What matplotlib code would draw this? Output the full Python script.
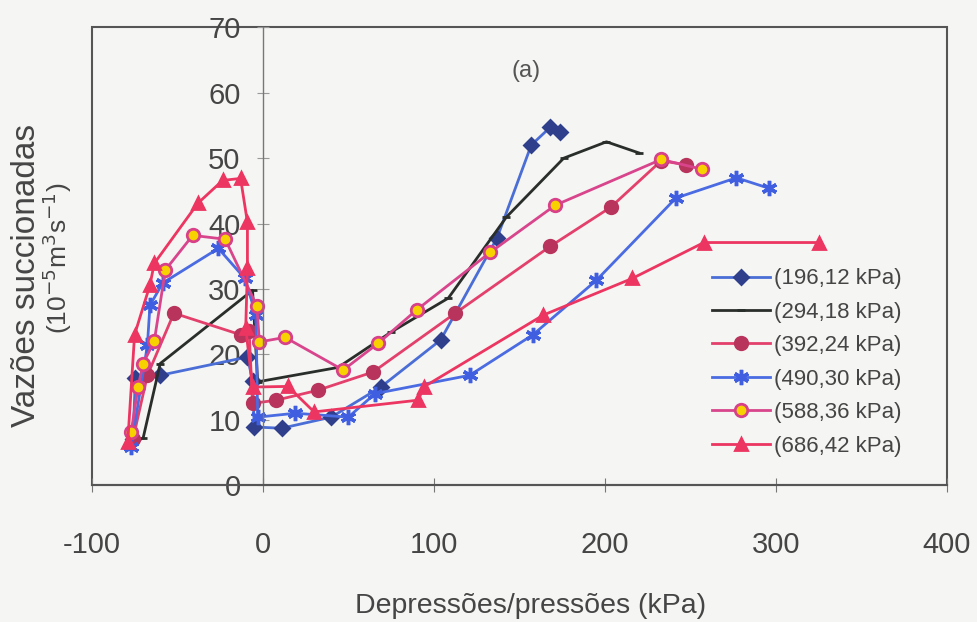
import matplotlib.pyplot as plt
from matplotlib.patches import Rectangle
import numpy as np

# data
labels = ['(196,12 kPa)', '(294,18 kPa)', '(392,24 kPa)',
          '(490,30 kPa)', '(588,36 kPa)', '(686,42 kPa)']

x196 = [-76, -74.5, -60, -9, -6, -5, 11, 40, 69, 104, 137, 157, 168, 174]
y196 = [7, 16.4, 16.8, 19.6, 16, 8.9, 8.7, 10.4, 15, 22.2, 37.8, 52, 54.7, 54]

x294 = [-70, -60, -6, -3, 44, 75, 108.5, 142.5, 176, 201, 220]
y294 = [7.2, 18.6, 29.8, 15.8, 18, 23.4, 28.6, 41, 50, 52.5, 50.8]

x392 = [-76, -67.5, -52, -13, -8, -6, 8, 32, 64.5, 112.6, 168, 203.5, 233, 247.5]
y392 = [7, 16.8, 26.3, 23, 23.5, 12.5, 13, 14.5, 17.3, 26.3, 36.5, 42.5, 49.6, 49]

x490 = [-77, -67.5, -66, -58.6, -26, -10.5, -4, -3, 19, 50, 65.7, 121, 158, 195, 241.6, 277, 296]
y490 = [5.8, 21.4, 27.5, 30.9, 36.2, 31.6, 26, 10.4, 11, 10.4, 14, 16.8, 23, 31.3, 43.9, 47, 45.4]

x588 = [-77, -73, -70, -63.5, -57, -41, -22, -3.5, -2, 13, 47, 67.5, 90, 133, 171, 233, 257]
y588 = [8.1, 15, 18.6, 22, 32.9, 38.2, 37.6, 27.4, 21.9, 22.6, 17.6, 21.7, 26.8, 35.6, 42.8, 49.8, 48.3]

x686 = [-79, -75, -66, -63.5, -38, -23.5, -13, -9, -9, -10, -6, 14.7, 30, 91, 94, 164, 216, 258, 325.5]
y686 = [6.6, 23, 30.6, 33.9, 43.1, 46.6, 46.9, 40.2, 33.2, 24, 15, 15.1, 11.2, 13, 15, 26, 31.6, 37.1, 37.1]

xticks = [-100, 0, 100, 200, 300, 400]
yticks = [0, 10, 20, 30, 40, 50, 60, 70]

bg = '#f5f5f3'
txt = '#454545'
plt.rcParams['font.family'] = ['Liberation Sans', 'DejaVu Sans']
plt.rcParams['axes.unicode_minus'] = False

fig = plt.figure(figsize=(9.77, 6.22), dpi=100, facecolor=bg)
ax = fig.add_axes([0.094, 0.22, 0.875, 0.736], facecolor=bg)

# (x, y, line colour, marker, marker face, marker edge, marker size)
styles = [
    (x196, y196, '#4a6ed6', 'D', '#2f3f8c', '#2f3f8c', 7),
    (x294, y294, '#2a2e2a', '_', '#2a2e2a', '#2a2e2a', 6),
    (x392, y392, '#e3406c', 'o', '#b8345c', '#b8345c', 9),
    (x490, y490, '#4a6be2', (6, 2, 0), '#3f5fe0', '#3f5fe0', 11),
    (x588, y588, '#d8458c', 'o', '#f7d200', '#d8408a', 9),
    (x686, y686, '#ec3560', '^', '#ec3560', '#ec3560', 9),
]
for (xs, ys, lc, mk, mf, me, ms), lab in zip(styles, labels):
    mew = 2.5 if mk == (6, 2, 0) else 2
    ax.plot(xs, ys, color=lc, lw=2, marker=mk, markerfacecolor=mf,
            markeredgecolor=me, markersize=ms, markeredgewidth=mew, label=lab)

ax.set_xlim(-100, 400)
ax.set_ylim(0, 70)

# y axis sits on x = 0, frame drawn as a box
for s in ['top', 'right']:
    ax.spines[s].set_visible(False)
ax.spines['left'].set_position(('data', 0))
ax.spines['left'].set_color('#777777')
ax.spines['left'].set_linewidth(1)
ax.spines['bottom'].set_color('#555555')
ax.spines['bottom'].set_linewidth(1.5)
ax.add_patch(Rectangle((0, 0), 1, 1, transform=ax.transAxes, fill=False,
                       edgecolor='#555555', lw=1.5, clip_on=False, zorder=0))

ax.set_xticks(xticks)
ax.set_yticks(yticks)
ax.tick_params(axis='x', direction='inout', length=10, pad=28, labelsize=21,
               colors='#777777', labelcolor=txt)
ax.tick_params(axis='y', direction='inout', length=8, pad=12, labelsize=21,
               colors='#999999', labelcolor=txt)

fig.text(0.5435, 0.026, 'Depressões/pressões (kPa)', fontsize=20.5,
         color=txt, ha='center', va='center')
fig.text(0.027, 0.557, 'Vazões succionadas', rotation=90, fontsize=24,
         color=txt, ha='center', va='center')
fig.text(0.059, 0.585, '(10$^{-5}$m$^{3}$s$^{-1}$)', rotation=90, fontsize=19,
         color=txt, ha='center', va='center')
ax.text(0.508, 0.905, '(a)', transform=ax.transAxes, fontsize=17,
        color='#555555', ha='center', va='center')

leg = ax.legend(loc='upper left', bbox_to_anchor=(0.715, 0.493), frameon=False,
                fontsize=16, handlelength=2.6, labelspacing=0.56,
                handletextpad=0.2, borderaxespad=0)
for t in leg.get_texts():
    t.set_color(txt)

fig.savefig('out.png', dpi=100, facecolor=bg)
